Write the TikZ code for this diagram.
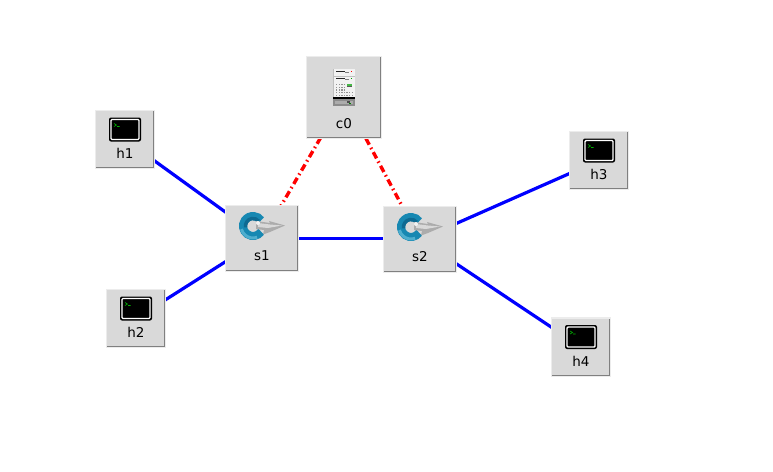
\documentclass[tikz,border=0pt]{standalone}
\usepackage{fontspec}
\usetikzlibrary{calc,backgrounds}
\setmainfont{DejaVu Sans}
\definecolor{boxgray}{HTML}{D9D9D9}
\definecolor{boxlight}{HTML}{ECECEC}
\definecolor{boxdark}{HTML}{808080}
\definecolor{teal1}{HTML}{1788B2}
\definecolor{teal2}{HTML}{0E6A92}
\definecolor{teal3}{HTML}{4FAECE}
\tikzset{
  raisedbox/.style={fill=boxgray,draw=boxlight,line width=1.6pt,inner sep=0pt},
  hostbox/.style={raisedbox,minimum width=59pt,minimum height=58pt},
  switchbox/.style={raisedbox,minimum width=73pt,minimum height=66pt},
  ctrlbox/.style={raisedbox,minimum width=75pt,minimum height=82pt},
  hostlabel/.style={font=\fontsize{13.5}{14}\selectfont,text=black,inner sep=0pt,yshift=-14pt},
  switchlabel/.style={font=\fontsize{13.5}{14}\selectfont,text=black,inner sep=0pt,yshift=-17pt},
  ctrllabel/.style={font=\fontsize{13.5}{14}\selectfont,text=black,inner sep=0pt,yshift=-26pt},
  shade edge/.style={draw=boxdark,line width=1.2pt},
  datalink/.style={draw={rgb,255:red,0;green,0;blue,255},line width=3.2pt},
  ctrllink/.style={draw=red,line width=3.4pt,dash pattern=on 7pt off 3.5pt on 1.5pt off 3.5pt},
  terminal/.pic={
    \fill[black,rounded corners=2pt] (-16,-12) rectangle (16,12);
    \draw[white,line width=1.4pt,rounded corners=1pt] (-14,-10) rectangle (14,10);
    \draw[green!70!black,line width=0.6pt] (-11,-6) -- (-8.5,-4.5) -- (-11,-3) (-8,-3) -- (-5.5,-3);
  },
  switchicon/.pic={
    \draw[teal1,line width=8pt] (35:10) arc[start angle=35,end angle=325,radius=10];
    \draw[teal3,line width=3pt] (70:12) arc[start angle=70,end angle=165,radius=12];
    \draw[teal2,line width=3.5pt] (170:7.5) arc[start angle=170,end angle=320,radius=7.5];
    \fill[gray!65] (3,-5) -- (17,-3) -- (16,-5) -- (32,-0.5) -- (17,6) -- (10,8.5) -- (11,4) -- (3,3) -- cycle;
    \fill[gray!30] (5,-3) -- (17,-1.5) -- (29,-0.5) -- (15,2) -- (5,1) -- cycle;
    \fill[white!90!gray] (5,-3) circle[radius=2];
  },
  servericon/.pic={
    \fill[gray!50] (-11,-29) rectangle (11,8.5);
    \fill[white!95!black] (-10.5,-28.5) rectangle (10.5,-22);
    \fill[white!95!black] (-10.5,-21) rectangle (10.5,-16);
    \fill[black!85] (-8,-26.5) rectangle (1,-25.2);
    \fill[black!85] (-8,-20) rectangle (1,-18.7);
    \fill[gray] (1,-25.5) rectangle (5,-24.5);
    \fill[gray] (1,-19) rectangle (5,-18);
    \fill[red] (7,-26.5) rectangle (8.3,-25.2);
    \fill[green!60!black] (7,-20) rectangle (8.3,-18.7);
    \fill[white!95!black] (-10.5,-15.5) rectangle (10.5,-0.5);
    \foreach \i in {0,...,3} \foreach \j in {0,...,2}
      \fill[gray!85] (-8+2.6*\i,-13.5+2.6*\j) rectangle ++(1.4,1.4);
    \foreach \i in {0,...,6} \foreach \j in {0,1}
      \fill[gray!85] (-8+2.6*\i,-5.5+2.5*\j) rectangle ++(1.4,1.4);
    \fill[green!45!gray] (3,-14) rectangle (7.5,-12);
    \fill[gray!70!black] (3,-12) rectangle (7.5,-10.2);
    \fill[black] (-11,-0.5) rectangle (11,1);
    \fill[gray!90] (-11,1) rectangle (11,8.5);
    \fill[gray!65] (-9,3) rectangle (9,6.5);
    \fill[black!70] (3,3.5) rectangle (6,5.5);
    \fill[green!50!black] (5,5) rectangle (6.5,6.5);
  }
}
\begin{document}
\begin{tikzpicture}[x=1pt,y=-1pt]
\useasboundingbox (0,0) rectangle (773,471);
\node[hostbox] (h1) at (125,139.5) {}; \node[hostlabel] (th1) at (h1) {h1};
\node[hostbox] (h2) at (136,318.5) {}; \node[hostlabel] (th2) at (h2) {h2};
\node[hostbox] (h3) at (599,160.5) {}; \node[hostlabel] (th3) at (h3) {h3};
\node[hostbox] (h4) at (581,347) {}; \node[hostlabel] (th4) at (h4) {h4};
\node[switchbox] (s1) at (262,238.5) {}; \node[switchlabel] (ts1) at (s1) {s1};
\node[switchbox] (s2) at (420,239.5) {}; \node[switchlabel] (ts2) at (s2) {s2};
\node[ctrlbox] (c0) at (344,97.5) {}; \node[ctrllabel] (tc0) at (c0) {c0};
\begin{scope}[on background layer]
\draw[datalink] (h1.center) -- (s1.center);
\draw[datalink] (h2.center) -- (s1.center);
\draw[datalink] (s1.center) -- (s1.center -| s2.center);
\draw[datalink] (s2.center) -- (h3.center);
\draw[datalink] (s2.center) -- (h4.center);
\draw[ctrllink] (c0.center) -- (s1.center);
\draw[ctrllink] (c0.center) -- (s2.center);
\end{scope}
\foreach \n in {h1,h2,h3,h4} {
  \draw[shade edge] ($(\n.south west)+(1.5,-1.5)$) -- ($(\n.south east)+(-1.5,-1.5)$) -- ($(\n.north east)+(-1.5,1.5)$);
  \path ($(\n)+(0,-10)$) pic {terminal};
}
\foreach \n in {s1,s2,c0} {
  \draw[shade edge] ($(\n.south west)+(1.5,-1.5)$) -- ($(\n.south east)+(-1.5,-1.5)$) -- ($(\n.north east)+(-1.5,1.5)$);
}
\path ($(s1)+(-9,-12.5)$) pic {switchicon};
\path ($(s2)+(-9,-12.5)$) pic {switchicon};
\path (c0) pic {servericon};
\end{tikzpicture}
\end{document}
